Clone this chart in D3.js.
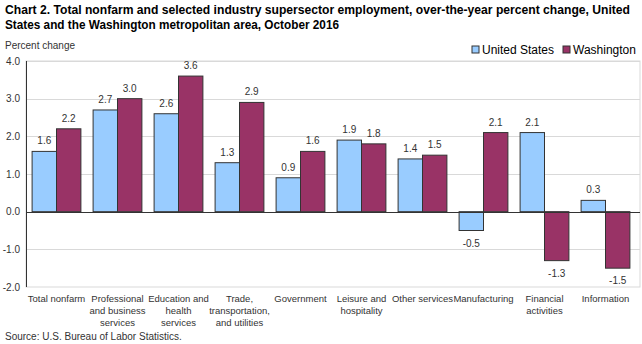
<!DOCTYPE html>
<html>
<head>
<meta charset="utf-8">
<script src="https://cdn.jsdelivr.net/npm/d3@7"></script>
<style>
  body { margin: 0; background: #fff; }
  svg text { font-family: "Liberation Sans", Arial, sans-serif; }
</style>
</head>
<body>
<svg id="chart" width="642" height="344"></svg>
<script>
// over-the-year percent change, October 2016
const categories = [
  ['Total nonfarm'],
  ['Professional', 'and business', 'services'],
  ['Education and', 'health', 'services'],
  ['Trade,', 'transportation,', 'and utilities'],
  ['Government'],
  ['Leisure and', 'hospitality'],
  ['Other services'],
  ['Manufacturing'],
  ['Financial', 'activities'],
  ['Information']
];
const usValues = [1.6, 2.7, 2.6, 1.3, 0.9, 1.9, 1.4, -0.5, 2.1, 0.3];
const waValues = [2.2, 3.0, 3.6, 2.9, 1.6, 1.8, 1.5, 2.1, -1.3, -1.5];
const yTicks = [4.0, 3.0, 2.0, 1.0, 0.0, -1.0, -2.0];
const seriesNames = ['United States', 'Washington'];
const colors = ['#99ccff', '#993366'];

const fmt = d => d3.format('.1f')(d).replace('\u2212', '-');

const svg = d3.select('#chart');
const plot = {left: 26, right: 636, top: 61, bottom: 287};

// title, squeezed to fit the width
const title = svg.append('text')
  .style('font-size', '12px').style('font-weight', 'bold').attr('fill', '#000');
title.append('tspan').attr('x', 5).attr('y', 14)
  .attr('textLength', 625).attr('lengthAdjust', 'spacingAndGlyphs')
  .text('Chart 2. Total nonfarm and selected industry supersector employment, over-the-year percent change, United');
title.append('tspan').attr('x', 5).attr('y', 29)
  .attr('textLength', 334).attr('lengthAdjust', 'spacingAndGlyphs')
  .text('States and the Washington metropolitan area, October 2016');

svg.append('text').attr('x', 5).attr('y', 49)
  .style('font-size', '10px').attr('fill', '#333').text('Percent change');

const y = d3.scaleLinear().domain([-2, 4]).range([plot.bottom, plot.top]);
const x0 = d3.scaleBand().domain(d3.range(categories.length))
  .range([plot.left, plot.right]).paddingInner(0.2).paddingOuter(0.1);
const x1 = d3.scaleBand().domain([0, 1]).range([0, x0.bandwidth()]);

// frame and grid
svg.append('rect')
  .attr('x', plot.left).attr('y', plot.top)
  .attr('width', plot.right - plot.left + 4).attr('height', plot.bottom - plot.top)
  .attr('fill', 'none').attr('stroke', '#d9d9d9');

svg.append('g').selectAll('line').data(yTicks.filter(d => d !== 0 && d !== -2))
  .join('line')
  .attr('x1', plot.left).attr('x2', plot.right + 4)
  .attr('y1', d => Math.round(y(d)) + 0.5).attr('y2', d => Math.round(y(d)) + 0.5)
  .attr('stroke', '#d9d9d9');

// y tick labels
svg.append('g').selectAll('text').data(yTicks).join('text')
  .attr('x', 20).attr('y', d => y(d) + 3.5)
  .attr('text-anchor', 'end').style('font-size', '10px').attr('fill', '#333')
  .text(fmt);

// bars
const series = [usValues, waValues];
series.forEach((vals, s) => {
  svg.append('g').selectAll('rect').data(vals).join('rect')
    .attr('x', (d, i) => x0(i) + x1(s))
    .attr('y', d => y(Math.max(0, d)))
    .attr('width', x1.bandwidth())
    .attr('height', d => Math.abs(y(d) - y(0)))
    .attr('fill', colors[s]).attr('stroke', '#333').attr('stroke-width', 1);

  svg.append('g').selectAll('text').data(vals).join('text')
    .attr('x', (d, i) => x0(i) + x1(s) + x1.bandwidth() / 2)
    .attr('y', d => d >= 0 ? y(d) - 7 : y(d) + 16)
    .attr('text-anchor', 'middle').style('font-size', '10px').attr('fill', '#333')
    .text(fmt);
});

// zero line and y axis
svg.append('line')
  .attr('x1', plot.left).attr('x2', plot.right + 4)
  .attr('y1', Math.round(y(0)) + 0.5).attr('y2', Math.round(y(0)) + 0.5)
  .attr('stroke', '#333');
svg.append('line')
  .attr('x1', plot.left + 0.5).attr('x2', plot.left + 0.5)
  .attr('y1', plot.top).attr('y2', plot.bottom)
  .attr('stroke', '#333');

// category labels
const cat = svg.append('g').selectAll('text').data(categories).join('text')
  .attr('text-anchor', 'middle').style('font-size', '9.5px').attr('fill', '#333');
cat.each(function(lines, i) {
  const cx = x0(i) + x0.bandwidth() / 2;
  d3.select(this).selectAll('tspan').data(lines).join('tspan')
    .attr('x', cx).attr('y', (d, j) => 302 + j * 12).text(d => d);
});

// legend
const legend = svg.append('g');
const legendX = [472, 563];
seriesNames.forEach((name, s) => {
  legend.append('rect')
    .attr('x', legendX[s]).attr('y', 46).attr('width', 7).attr('height', 7)
    .attr('fill', colors[s]).attr('stroke', '#333');
  legend.append('text')
    .attr('x', legendX[s] + 10).attr('y', 54)
    .style('font-size', '12px').attr('fill', '#000').text(name);
});

svg.append('text').attr('x', 5).attr('y', 340)
  .style('font-size', '10px').attr('fill', '#333')
  .text('Source: U.S. Bureau of Labor Statistics.');
</script>
</body>
</html>
